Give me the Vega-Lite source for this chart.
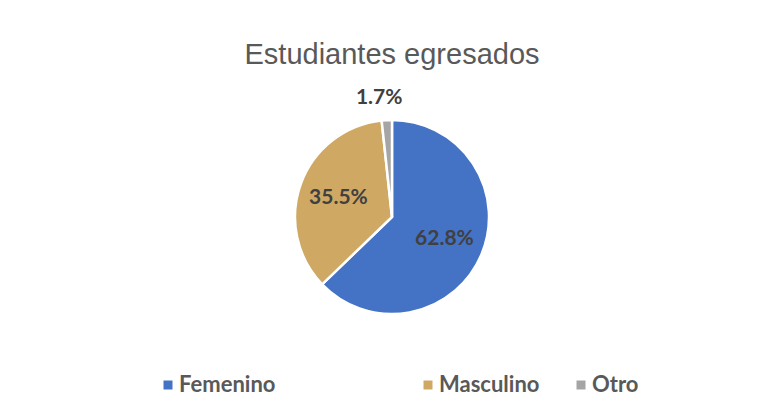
{
  "$schema": "https://vega.github.io/schema/vega-lite/v6.json",
  "width": 744,
  "height": 294,
  "autosize": {"type": "none"},
  "padding": {"top": 70, "left": 20, "right": 0, "bottom": 55},
  "background": "white",
  "title": {
    "text": "Estudiantes egresados",
    "font": "Liberation Sans",
    "fontSize": 29,
    "fontWeight": "normal",
    "color": "#595959",
    "anchor": "middle",
    "baseline": "alphabetic",
    "offset": -23
  },
  "data": {
    "values": [
      {"genero": "Femenino", "pct": 0.628},
      {"genero": "Masculino", "pct": 0.355},
      {"genero": "Otro", "pct": 0.017}
    ]
  },
  "encoding": {
    "theta": {"field": "pct", "type": "quantitative", "stack": true},
    "order": {"field": "genero", "sort": "ascending"}
  },
  "layer": [
    {
      "mark": {"type": "arc", "outerRadius": 97, "stroke": "white", "strokeWidth": 2.5},
      "encoding": {
        "color": {
          "field": "genero",
          "type": "nominal",
          "scale": {"domain": ["Femenino", "Masculino", "Otro"], "range": ["#4472C4", "#CFA864", "#A5A5A5"]},
          "legend": {
            "title": null,
            "values": ["Femenino"],
            "orient": "none",
            "direction": "horizontal",
            "legendX": 137,
            "legendY": 304,
            "padding": 0,
            "symbolType": "square",
            "symbolSize": 81,
            "symbolStrokeWidth": 0,
            "labelFont": "Lato",
            "labelFontWeight": "bold",
            "labelFontSize": 22,
            "labelColor": "#595959",
            "labelOffset": 0,
            "labelLimit": 400
          }
        }
      }
    },
    {
      "mark": {"type": "arc", "outerRadius": 97, "stroke": "white", "strokeWidth": 2.5},
      "encoding": {
        "color": {
          "field": "genero",
          "type": "nominal",
          "scale": {"domain": ["Femenino", "Masculino", "Otro"], "range": ["#4472C4", "#CFA864", "#A5A5A5"]},
          "legend": {
            "title": null,
            "values": ["Masculino", "Otro"],
            "orient": "none",
            "direction": "horizontal",
            "legendX": 397,
            "legendY": 304,
            "padding": 0,
            "symbolType": "square",
            "symbolSize": 81,
            "symbolStrokeWidth": 0,
            "labelFont": "Lato",
            "labelFontWeight": "bold",
            "labelFontSize": 22,
            "labelColor": "#595959",
            "labelOffset": 0,
            "labelLimit": 400,
            "columnPadding": 30
          }
        }
      }
    },
    {
      "transform": [{"filter": "datum.pct >= 0.05"}],
      "mark": {"type": "text", "radius": 57, "font": "Lato", "fontWeight": "bold", "fontSize": 21},
      "encoding": {"text": {"field": "pct", "type": "quantitative", "format": ".1%"}, "color": {"value": "#404040"}}
    },
    {
      "transform": [
        {"stack": "pct", "groupby": [], "sort": [{"field": "genero", "order": "ascending"}], "as": ["s0", "s1"]},
        {"filter": "datum.pct < 0.05"}
      ],
      "mark": {"type": "text", "radius": 120, "font": "Lato", "fontWeight": "bold", "fontSize": 21},
      "encoding": {
        "theta": {"field": "s0", "type": "quantitative", "stack": null},
        "theta2": {"field": "s1"},
        "order": null,
        "text": {"field": "pct", "type": "quantitative", "format": ".1%"},
        "color": {"value": "#404040"}
      }
    }
  ],
  "resolve": {"scale": {"color": "independent"}},
  "config": {"view": {"stroke": null}}
}
